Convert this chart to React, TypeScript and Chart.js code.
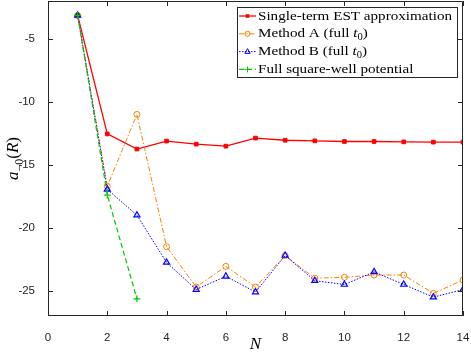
import React, { useEffect, useRef } from "react";
import { Chart, registerables } from "chart.js";
Chart.register(...registerables);

const N = [1, 2, 3, 4, 5, 6, 7, 8, 9, 10, 11, 12, 13, 14];
const singleTerm = [-3.14, -12.55, -13.75, -13.12, -13.36, -13.52, -12.88, -13.05, -13.1, -13.15, -13.15, -13.18, -13.2, -13.2];
const methodA = [-3.14, -16.7, -11.0, -21.5, -24.7, -23.06, -24.7, -22.2, -24.0, -23.93, -23.75, -23.75, -25.2, -24.15];
const methodB = [-3.14, -16.95, -19.0, -22.75, -24.9, -23.85, -25.1, -22.2, -24.2, -24.5, -23.5, -24.5, -25.5, -24.9];
const fullN = [1, 2, 3];
const fullSquareWell = [-3.14, -17.4, -25.64];
const xTicks = [0, 2, 4, 6, 8, 10, 12, 14];
const yTicks = [-25, -20, -15, -10, -5];
const seriesLabels = [
  "Single-term EST approximation",
  "Method A (full t_0)",
  "Method B (full t_0)",
  "Full square-well potential",
];

const AX = "#262626";
const SERIF = "'Liberation Serif', serif";

type Part = { t: string; it?: boolean; sub?: boolean };

function parseLabel(s: string): Part[] {
  const i = s.indexOf("t_0");
  if (i < 0) return [{ t: s }];
  return [{ t: s.slice(0, i) }, { t: "t", it: true }, { t: "0", sub: true }, { t: s.slice(i + 3) }];
}

function fontFor(p: Part, size: number) {
  const s = p.sub ? size * 0.7 : size;
  return `${p.it ? "italic " : ""}${s}px ${SERIF}`;
}

function measureParts(ctx: CanvasRenderingContext2D, parts: Part[], size: number) {
  let w = 0;
  for (const p of parts) {
    ctx.font = fontFor(p, size);
    w += ctx.measureText(p.t).width;
  }
  return w;
}

function drawParts(ctx: CanvasRenderingContext2D, parts: Part[], x: number, y: number, size: number) {
  let cx = x;
  for (const p of parts) {
    ctx.font = fontFor(p, size);
    ctx.fillText(p.t, cx, p.sub ? y + size * 0.3 : y);
    cx += ctx.measureText(p.t).width;
  }
}

function drawMarker(ctx: CanvasRenderingContext2D, style: string, x: number, y: number, r: number, color: string) {
  ctx.save();
  ctx.strokeStyle = color;
  ctx.fillStyle = color;
  ctx.setLineDash([]);
  ctx.lineWidth = 1;
  ctx.beginPath();
  if (style === "rect") {
    ctx.fillRect(x - r * 0.8, y - r * 0.8, r * 1.6, r * 1.6);
  } else if (style === "circle") {
    ctx.arc(x, y, r, 0, Math.PI * 2);
    ctx.stroke();
  } else if (style === "triangle") {
    ctx.moveTo(x, y - r);
    ctx.lineTo(x + r * 0.9, y + r * 0.6);
    ctx.lineTo(x - r * 0.9, y + r * 0.6);
    ctx.closePath();
    ctx.stroke();
  } else if (style === "cross") {
    ctx.moveTo(x - r, y);
    ctx.lineTo(x + r, y);
    ctx.moveTo(x, y - r);
    ctx.lineTo(x, y + r);
    ctx.stroke();
  }
  ctx.restore();
}

const framePlugin = {
  id: "frame",
  afterDraw(chart: any) {
    const ctx: CanvasRenderingContext2D = chart.ctx;
    const { left, right, top, bottom } = chart.chartArea;
    const xs = chart.scales.x;
    const ys = chart.scales.y;
    ctx.save();
    ctx.strokeStyle = AX;
    ctx.lineWidth = 1;
    ctx.setLineDash([]);
    ctx.beginPath();
    ctx.rect(left + 0.5, top + 0.5, right - left - 1, bottom - top - 1);
    ctx.stroke();
    ctx.beginPath();
    const tl = 5;
    for (const v of xTicks) {
      const px = Math.round(xs.getPixelForValue(v)) + 0.5;
      ctx.moveTo(px, bottom);
      ctx.lineTo(px, bottom - tl);
      ctx.moveTo(px, top);
      ctx.lineTo(px, top + tl);
    }
    for (const v of yTicks) {
      const py = Math.round(ys.getPixelForValue(v)) + 0.5;
      ctx.moveTo(left, py);
      ctx.lineTo(left + tl, py);
      ctx.moveTo(right, py);
      ctx.lineTo(right - tl, py);
    }
    ctx.stroke();

    // axis titles
    ctx.fillStyle = "#000";
    ctx.textBaseline = "alphabetic";
    ctx.textAlign = "left";
    const xParts: Part[] = [{ t: "N", it: true }];
    const xw = measureParts(ctx, xParts, 17);
    drawParts(ctx, xParts, (left + right) / 2 - xw / 2, 349, 17);

    const yParts: Part[] = [
      { t: "a", it: true },
      { t: "\u22120", sub: true },
      { t: "(" },
      { t: "R", it: true },
      { t: ")" },
    ];
    ctx.translate(18, (top + bottom) / 2);
    ctx.rotate(-Math.PI / 2);
    const yw = measureParts(ctx, yParts, 17);
    drawParts(ctx, yParts, -yw / 2, 0, 17);
    ctx.restore();
  },
};

const LEGEND_FONT = 13.5;
const LEGEND_TEXT_WIDTH = 194;

const legendPlugin = {
  id: "customLegend",
  afterDraw(chart: any) {
    const ctx: CanvasRenderingContext2D = chart.ctx;
    const bx = 237.5, by = 7.5, bw = 220, bh = 70;
    ctx.save();
    ctx.fillStyle = "#fff";
    ctx.fillRect(bx, by, bw, bh);
    ctx.strokeStyle = AX;
    ctx.lineWidth = 1;
    ctx.setLineDash([]);
    ctx.strokeRect(bx, by, bw, bh);
    const rows = [16, 33.8, 51.6, 69.4];
    const w0 = measureParts(ctx, parseLabel(seriesLabels[0]), LEGEND_FONT);
    const stretch = LEGEND_TEXT_WIDTH / w0;
    chart.data.datasets.forEach((ds: any, i: number) => {
      const y = rows[i];
      ctx.save();
      ctx.strokeStyle = ds.borderColor;
      ctx.lineWidth = ds.borderWidth;
      ctx.setLineDash(ds.borderDash || []);
      ctx.beginPath();
      ctx.moveTo(239, y);
      ctx.lineTo(256, y);
      ctx.stroke();
      ctx.restore();
      drawMarker(ctx, ds.pointStyle, 247.5, y, ds.pointRadius * 0.85, ds.borderColor);
      ctx.fillStyle = "#000";
      ctx.textBaseline = "middle";
      ctx.textAlign = "left";
      const parts = parseLabel(seriesLabels[i]);
      ctx.save();
      ctx.translate(258, 0);
      ctx.scale(stretch, 1);
      drawParts(ctx, parts, 0, y, LEGEND_FONT);
      ctx.restore();
    });
    ctx.restore();
  },
};

const noPad = (s: any) => {
  s.paddingTop = 0;
  s.paddingBottom = 0;
  s.paddingLeft = 0;
  s.paddingRight = 0;
};

export default function App() {
  const ref = useRef<HTMLCanvasElement>(null);
  useEffect(() => {
    if (!ref.current) return;
    const chart = new Chart(ref.current, {
      type: "line",
      data: {
        datasets: [
          {
            label: seriesLabels[0],
            data: N.map((n, i) => ({ x: n, y: singleTerm[i] })),
            borderColor: "#ff0000",
            backgroundColor: "#ff0000",
            borderWidth: 1.3,
            pointStyle: "rect",
            pointRadius: 2.6,
            pointBorderWidth: 1,
            pointBackgroundColor: "#ff0000",
            order: 3,
          },
          {
            label: seriesLabels[1],
            data: N.map((n, i) => ({ x: n, y: methodA[i] })),
            borderColor: "#ff8000",
            backgroundColor: "#ff8000",
            borderWidth: 1,
            borderDash: [5, 2, 1.5, 2],
            pointStyle: "circle",
            pointRadius: 3,
            pointBorderWidth: 1,
            pointBackgroundColor: "rgba(0,0,0,0)",
            order: 2,
          },
          {
            label: seriesLabels[2],
            data: N.map((n, i) => ({ x: n, y: methodB[i] })),
            borderColor: "#0000ff",
            backgroundColor: "#0000ff",
            borderWidth: 1,
            borderDash: [1.5, 1.5],
            pointStyle: "triangle",
            pointRadius: 3.5,
            pointBorderWidth: 1.2,
            pointBackgroundColor: "rgba(0,0,0,0)",
            order: 1,
          },
          {
            label: seriesLabels[3],
            data: fullN.map((n, i) => ({ x: n, y: fullSquareWell[i] })),
            borderColor: "#00c800",
            backgroundColor: "#00c800",
            borderWidth: 1.2,
            borderDash: [5, 3],
            pointStyle: "cross",
            pointRadius: 3.5,
            pointBorderWidth: 1.2,
            order: 0,
          },
        ],
      },
      options: {
        responsive: false,
        animation: false,
        layout: { autoPadding: false, padding: { left: 0, top: 1, right: 8, bottom: 0 } },
        plugins: { legend: { display: false }, tooltip: { enabled: false } },
        scales: {
          x: {
            type: "linear",
            min: 0,
            max: 14,
            afterBuildTicks: (s: any) => {
              s.ticks = xTicks.map((v) => ({ value: v }));
            },
            afterFit: (s: any) => {
              s.height = 38;
              noPad(s);
            },
            grid: { display: false },
            border: { display: false },
            ticks: {
              color: AX,
              padding: 7,
              maxRotation: 0,
              font: { family: "'Liberation Sans', Arial, sans-serif", size: 11.5 },
            },
          },
          y: {
            type: "linear",
            min: -27,
            max: -2,
            afterBuildTicks: (s: any) => {
              s.ticks = yTicks.map((v) => ({ value: v }));
            },
            afterFit: (s: any) => {
              s.width = 48;
              noPad(s);
            },
            grid: { display: false },
            border: { display: false },
            ticks: {
              color: AX,
              padding: 5,
              font: { family: "'Liberation Sans', Arial, sans-serif", size: 11.5 },
            },
          },
        },
      },
      plugins: [framePlugin, legendPlugin],
    } as any);
    return () => chart.destroy();
  }, []);
  return (
    <div style={{ position: "absolute", left: 0, top: 0, width: 471, height: 354, background: "#fff" }}>
      <canvas ref={ref} width={471} height={354} />
    </div>
  );
}
